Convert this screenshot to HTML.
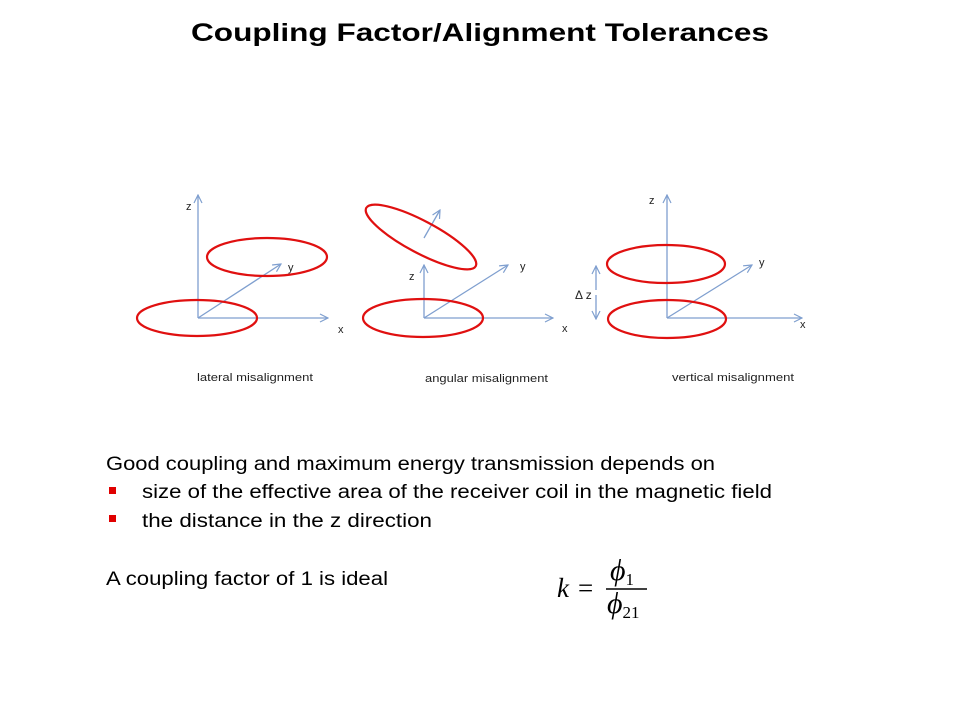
<!DOCTYPE html>
<html><head><meta charset="utf-8"><style>
html,body{margin:0;padding:0;background:#fff;}
svg{display:block;}
</style></head><body>
<svg width="960" height="720" viewBox="0 0 960 720" xmlns="http://www.w3.org/2000/svg" font-family="Liberation Sans, sans-serif">
<defs>
<marker id="a" markerWidth="10" markerHeight="10" refX="9" refY="5" orient="auto" markerUnits="userSpaceOnUse">
<path d="M1,1 L9,5 L1,9" fill="none" stroke="#7f9fcf" stroke-width="1.2"/>
</marker>
</defs>
<text x="480" y="41" text-anchor="middle" font-size="25" font-weight="bold" textLength="578" lengthAdjust="spacingAndGlyphs">Coupling Factor/Alignment Tolerances</text>

<g stroke="#7f9fcf" stroke-width="1.3" fill="none">
<line x1="198" y1="318" x2="198" y2="195" marker-end="url(#a)"/>
<line x1="198" y1="318" x2="328" y2="318" marker-end="url(#a)"/>
<line x1="198" y1="318" x2="281" y2="264" marker-end="url(#a)"/>
<line x1="424" y1="318" x2="424" y2="265" marker-end="url(#a)"/>
<line x1="424" y1="318" x2="553" y2="318" marker-end="url(#a)"/>
<line x1="424" y1="318" x2="508" y2="265" marker-end="url(#a)"/>
<line x1="424" y1="238" x2="440" y2="210" marker-end="url(#a)"/>
<line x1="667" y1="318" x2="667" y2="195" marker-end="url(#a)"/>
<line x1="667" y1="318" x2="802" y2="318" marker-end="url(#a)"/>
<line x1="667" y1="318" x2="752" y2="265" marker-end="url(#a)"/>
<line x1="596" y1="290" x2="596" y2="266" marker-end="url(#a)"/>
<line x1="596" y1="295" x2="596" y2="319" marker-end="url(#a)"/>
</g>
<g stroke="#e01010" stroke-width="2.2" fill="none">
<ellipse cx="197" cy="318" rx="60" ry="18"/>
<ellipse cx="267" cy="257" rx="60" ry="19"/>
<ellipse cx="423" cy="318" rx="60" ry="19"/>
<ellipse cx="421" cy="237" rx="62" ry="16" transform="rotate(28 421 237)"/>
<ellipse cx="666" cy="264" rx="59" ry="19"/>
<ellipse cx="667" cy="319" rx="59" ry="19"/>
</g>
<g font-size="11" fill="#222">
<text x="186" y="210">z</text>
<text x="288" y="271">y</text>
<text x="338" y="333">x</text>
<text x="409" y="280">z</text>
<text x="520" y="270">y</text>
<text x="562" y="332">x</text>
<text x="649" y="204">z</text>
<text x="759" y="266">y</text>
<text x="800" y="328">x</text>
<text x="575" y="299" font-size="12">Δ z</text>
<text x="197" y="381" textLength="116" lengthAdjust="spacingAndGlyphs">lateral misalignment</text>
<text x="425" y="382" textLength="123" lengthAdjust="spacingAndGlyphs">angular misalignment</text>
<text x="672" y="381" textLength="122" lengthAdjust="spacingAndGlyphs">vertical misalignment</text>
</g>
<g font-size="19" fill="#000">
<text x="106" y="470" textLength="609" lengthAdjust="spacingAndGlyphs">Good coupling and maximum energy transmission depends on</text>
<text x="142" y="498" textLength="630" lengthAdjust="spacingAndGlyphs">size of the effective area of the receiver coil in the magnetic field</text>
<text x="142" y="527" textLength="290" lengthAdjust="spacingAndGlyphs">the distance in the z direction</text>
<text x="106" y="585" textLength="282" lengthAdjust="spacingAndGlyphs">A coupling factor of 1 is ideal</text>
</g>
<rect x="109" y="487" width="7" height="7" fill="#e00000"/>
<rect x="109" y="515" width="7" height="7" fill="#e00000"/>
<g font-family="Liberation Serif, serif" font-style="italic" fill="#000">
<text x="557" y="597" font-size="27">k</text>
<text x="578" y="597" font-size="27" font-style="normal">=</text>
<text x="610" y="580" font-size="30">ϕ<tspan font-size="17" font-style="normal" dy="5">1</tspan></text>
<line x1="606" y1="589" x2="647" y2="589" stroke="#000" stroke-width="1.5"/>
<text x="607" y="613" font-size="30">ϕ<tspan font-size="17" font-style="normal" dy="5">21</tspan></text>
</g>
</svg>
</body></html>
